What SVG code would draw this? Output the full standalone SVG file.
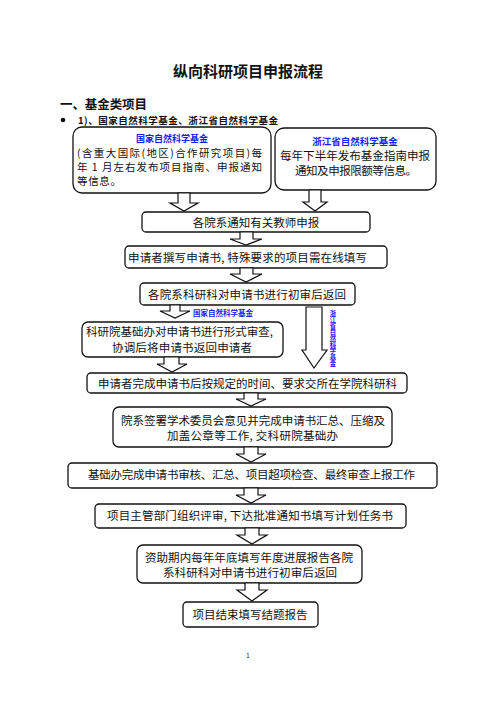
<svg xmlns="http://www.w3.org/2000/svg" width="496" height="702" viewBox="0 0 496 702">
<style>
text{font-family:"Noto Sans CJK SC","Liberation Sans",sans-serif;fill:#111}
.t{font-size:11.5px}
.c{text-anchor:middle}
.b{font-weight:bold}
.blue{fill:#1a1aff;font-weight:bold}
.box{fill:#fff;stroke:#111;stroke-width:1.3}
.arr{fill:#fff;stroke:#111;stroke-width:1.2;stroke-linejoin:miter}
</style>
<rect width="496" height="702" fill="#fff"/>
<text x="248" y="77" class="c b" font-size="15">纵向科研项目申报流程</text>
<text x="60" y="109" class="b" font-size="12.5" textLength="87">一、基金类项目</text>
<circle cx="63" cy="120" r="2.3" fill="#111"/>
<text x="78" y="124" class="b" font-size="9.5" textLength="200">1)、国家自然科学基金、浙江省自然科学基金</text>

<g id="node-nsfc">
<rect class="box" x="73" y="127" width="198" height="66" rx="9"/>
<text x="172" y="142" class="c blue" font-size="9">国家自然科学基金</text>
<text x="77" y="156.5" font-size="10.5" textLength="185">(含重大国际(地区)合作研究项目)每</text>
<text x="77" y="170.5" font-size="10.5" textLength="185">年 1 月左右发布项目指南、申报通知</text>
<text x="77" y="184.5" font-size="10.5" textLength="44">等信息。</text>
</g>
<g id="node-zjnsf">
<rect class="box" x="275" y="128" width="161" height="62" rx="9"/>
<text x="355" y="145" class="c blue" font-size="9.5">浙江省自然科学基金</text>
<text x="355" y="160" class="t c" textLength="150">每年下半年发布基金指南申报</text>
<text x="356" y="175" class="t c" textLength="122">通知及申报限额等信息。</text>
</g>
<g id="node-notify">
<rect class="box" x="142" y="212" width="228" height="20" rx="4"/>
<text x="256" y="227" class="t c">各院系通知有关教师申报</text>
</g>
<g id="node-write">
<rect class="box" x="125" y="246" width="262" height="22" rx="4"/>
<text x="128" y="262" class="t" textLength="239">申请者撰写申请书, 特殊要求的项目需在线填写</text>
</g>
<g id="node-dept-review">
<rect class="box" x="140" y="283" width="215" height="22" rx="4"/>
<text x="247" y="299" class="t c" textLength="198">各院系科研科对申请书进行初审后返回</text>
</g>
<g id="node-formal-review">
<rect class="box" x="82" y="322" width="201" height="35" rx="6"/>
<text x="86" y="336" class="t" textLength="187">科研院基础办对申请书进行形式审查,</text>
<text x="112" y="352" class="t" textLength="140">协调后将申请书返回申请者</text>
</g>
<g id="node-submit">
<rect class="box" x="87" y="373" width="320" height="20" rx="4"/>
<text x="98" y="388" class="t" textLength="299">申请者完成申请书后按规定的时间、要求交所在学院科研科</text>
</g>
<g id="node-summary">
<rect class="box" x="113" y="407" width="279" height="40" rx="6"/>
<text x="121" y="425" class="t" textLength="264">院系签署学术委员会意见并完成申请书汇总、压缩及</text>
<text x="167" y="440" class="t" textLength="171">加盖公章等工作, 交科研院基础办</text>
</g>
<g id="node-audit">
<rect class="box" x="68" y="463" width="369" height="25" rx="4"/>
<text x="88" y="479" class="t" textLength="327">基础办完成申请书审核、汇总、项目超项检查、最终审查上报工作</text>
</g>
<g id="node-approve">
<rect class="box" x="95" y="504" width="311" height="24" rx="4"/>
<text x="107" y="520" class="t" textLength="286">项目主管部门组织评审, 下达批准通知书填写计划任务书</text>
</g>
<g id="node-progress">
<rect class="box" x="137" y="545" width="225" height="38" rx="6"/>
<text x="145" y="562" class="t" textLength="208">资助期内每年年底填写年度进展报告各院</text>
<text x="163" y="577" class="t" textLength="174">系科研科对申请书进行初审后返回</text>
</g>
<g id="node-final">
<rect class="box" x="183" y="602" width="135" height="25" rx="4"/>
<text x="250" y="619" class="t c" textLength="115">项目结束填写结题报告</text>
</g>

<g id="connectors">
<path class="arr" d="M178,193 V203 H170 L184,211 L198,203 H190 V193 Z"/>
<path class="arr" d="M309,190 V202 H303 L315,211 L327,202 H321 V190 Z"/>
<path class="arr" d="M240,232 V239 H230 L246,245 L262,239 H253 V232 Z"/>
<path class="arr" d="M240,268 V274 H230 L246,282 L262,274 H253 V268 Z"/>
<path class="arr" d="M170,305 V311 H160 L175,318 L190,311 H180 V305 Z"/>
<path class="arr" d="M306,307 V350 H302 L314,368 L327,350 H322 V307 Z"/>
<path class="arr" d="M164,357 V364 H157 L172,372 L187,364 H179 V357 Z"/>
<path class="arr" d="M244,393 V399 H236 L251,406 L266,399 H258 V393 Z"/>
<path class="arr" d="M244,447 V454 H236 L251,462 L266,454 H258 V447 Z"/>
<path class="arr" d="M244,488 V495 H236 L251,503 L266,495 H258 V488 Z"/>
<path class="arr" d="M245,528 V535 H237 L252,544 L267,535 H259 V528 Z"/>
<path class="arr" d="M245,583 V590 H237 L252,601 L267,590 H259 V583 Z"/>
<text x="193" y="316" class="blue" font-size="7.5" textLength="60">国家自然科学基金</text>
<text x="333" y="310" class="blue" font-size="6.3" style="writing-mode:vertical-rl;text-orientation:upright">浙江省自然科学基金</text>
</g>
<text x="248" y="658" class="c" font-size="6">1</text>
</svg>
